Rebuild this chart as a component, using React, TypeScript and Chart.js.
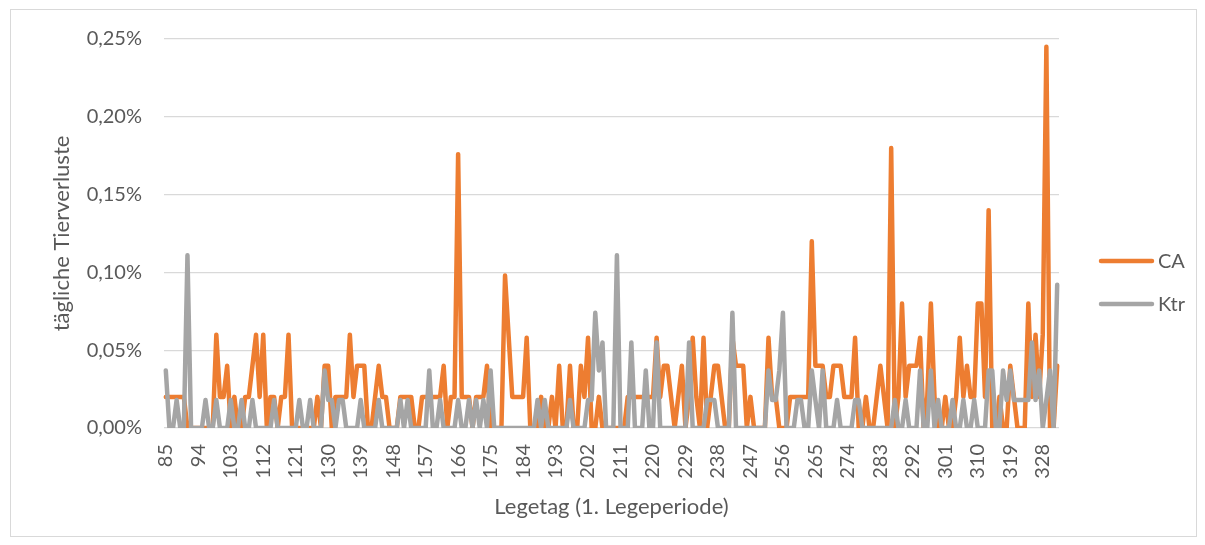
import React, { useEffect, useRef } from 'react';
import { Chart, registerables } from 'chart.js';

Chart.register(...registerables);

// ---- data -------------------------------------------------------------
const FIRST_DAY = 85;
const LAST_DAY = 332;
const days: string[] = [];
for (let d = FIRST_DAY; d <= LAST_DAY; d++) days.push(String(d));

// daily losses in percent (CA group), day 85 .. 332
const caLoss = [
  0.02, 0.02, 0.02, 0.02, 0.02, 0.02, 0, 0, 0, 0,
  0, 0, 0, 0, 0.06, 0.02, 0.02, 0.04, 0, 0.02,
  0, 0, 0.02, 0.02, 0.04, 0.06, 0.02, 0.06, 0, 0.02,
  0.02, 0, 0.02, 0.02, 0.06, 0, 0, 0, 0, 0,
  0, 0, 0.02, 0, 0.04, 0.04, 0, 0.02, 0.02, 0.02,
  0.02, 0.06, 0.02, 0.04, 0.04, 0.04, 0, 0, 0.02, 0.04,
  0.02, 0.02, 0, 0, 0, 0.02, 0.02, 0.02, 0.02, 0,
  0, 0.02, 0.02, 0.02, 0.02, 0.02, 0.02, 0.04, 0, 0.02,
  0.02, 0.176, 0.02, 0.02, 0.02, 0, 0.02, 0.02, 0.02, 0.04,
  0, 0, 0, 0, 0.098, 0.059, 0.02, 0.02, 0.02, 0.02,
  0.058, 0, 0, 0, 0.02, 0, 0, 0.02, 0, 0.04,
  0, 0, 0.04, 0, 0, 0.04, 0.02, 0.058, 0, 0,
  0.02, 0, 0, 0, 0, 0, 0, 0, 0.02, 0.02,
  0.02, 0.02, 0.02, 0.02, 0.02, 0.02, 0.058, 0.02, 0.04, 0.04,
  0.02, 0, 0.02, 0.04, 0, 0.02, 0.058, 0.02, 0, 0.058,
  0, 0.02, 0.04, 0.04, 0.02, 0, 0, 0.058, 0.04, 0.04,
  0.04, 0, 0.02, 0, 0, 0, 0, 0.058, 0.02, 0.02,
  0, 0, 0, 0.02, 0.02, 0.02, 0.02, 0.02, 0.02, 0.12,
  0.04, 0.04, 0.04, 0.02, 0.02, 0.04, 0.04, 0.04, 0.02, 0.02,
  0.02, 0.058, 0, 0, 0.02, 0, 0, 0.02, 0.04, 0.02,
  0, 0.18, 0, 0.02, 0.08, 0.02, 0.04, 0.04, 0.04, 0.058,
  0, 0.02, 0.08, 0.02, 0, 0, 0.02, 0, 0, 0.02,
  0.058, 0.02, 0.04, 0.02, 0.02, 0.08, 0.08, 0.02, 0.14, 0,
  0, 0.02, 0, 0, 0.04, 0.02, 0, 0, 0, 0.08,
  0.02, 0.06, 0.02, 0.06, 0.245, 0, 0, 0.04,
];

// daily losses in percent (control group), day 85 .. 332
const ktrLoss = [
  0.037, 0, 0, 0.018, 0, 0, 0.111, 0, 0, 0,
  0, 0.018, 0, 0, 0.018, 0, 0, 0, 0.018, 0,
  0, 0.018, 0, 0, 0.018, 0, 0, 0, 0, 0,
  0.018, 0, 0, 0, 0, 0, 0, 0.018, 0, 0,
  0.018, 0, 0, 0, 0.037, 0.018, 0.018, 0, 0.018, 0.018,
  0, 0, 0, 0, 0.018, 0, 0, 0, 0, 0.018,
  0, 0, 0, 0, 0, 0.018, 0, 0.018, 0, 0,
  0, 0, 0, 0.037, 0, 0, 0.018, 0, 0, 0,
  0, 0.018, 0, 0, 0.018, 0, 0.018, 0, 0.018, 0,
  0.037, 0, 0, 0, 0, 0, 0, 0, 0, 0,
  0, 0, 0, 0.018, 0, 0.018, 0, 0, 0, 0,
  0, 0, 0.018, 0, 0, 0, 0, 0.018, 0.018, 0.074,
  0.037, 0.055, 0, 0, 0, 0.111, 0, 0, 0, 0.055,
  0, 0, 0, 0.037, 0, 0, 0.055, 0, 0, 0,
  0, 0, 0, 0, 0, 0.055, 0, 0, 0, 0,
  0.018, 0.018, 0.018, 0, 0, 0, 0, 0.074, 0, 0,
  0, 0, 0, 0, 0, 0, 0, 0.037, 0.018, 0.018,
  0.037, 0.074, 0, 0, 0, 0.018, 0.018, 0, 0, 0.037,
  0.018, 0, 0.037, 0, 0, 0, 0.018, 0, 0, 0,
  0, 0.018, 0.018, 0, 0, 0, 0, 0, 0, 0,
  0, 0, 0.018, 0, 0, 0.018, 0, 0, 0, 0.037,
  0, 0, 0.037, 0, 0.018, 0, 0, 0, 0.018, 0,
  0, 0.018, 0, 0, 0.018, 0, 0, 0, 0.037, 0.037,
  0, 0, 0.037, 0.018, 0.037, 0.018, 0.018, 0.018, 0.018, 0.018,
  0.055, 0.018, 0.037, 0, 0.018, 0.037, 0, 0.092,
];

const seriesNames = ['CA', 'Ktr'];
const LABEL_STEP = 9;
const Y_MAX = 0.25;
const Y_STEP = 0.05;

// ---- style ------------------------------------------------------------
const ORANGE = '#ED7D31';
const GRAY = '#A5A5A5';
const TEXT = '#595959';
const GRID = '#D9D9D9';
const FONT = 'Lato';

const W = 1185;
const H = 526;

const sideLegend = {
  id: 'sideLegend',
  afterDraw(chart: any) {
    const ctx = chart.ctx;
    const items = [
      { label: seriesNames[0], color: ORANGE, y: 251 },
      { label: seriesNames[1], color: GRAY, y: 294 },
    ];
    ctx.save();
    items.forEach((it) => {
      ctx.strokeStyle = it.color;
      ctx.lineWidth = 4.5;
      ctx.lineCap = 'round';
      ctx.beginPath();
      ctx.moveTo(1090, it.y);
      ctx.lineTo(1141, it.y);
      ctx.stroke();
      ctx.fillStyle = TEXT;
      ctx.font = `20px ${FONT}`;
      ctx.textBaseline = 'middle';
      ctx.textAlign = 'left';
      ctx.fillText(it.label, 1147, it.y + 1);
    });
    ctx.restore();
  },
};

export default function App() {
  const ref = useRef<HTMLCanvasElement | null>(null);

  useEffect(() => {
    if (!ref.current) return;
    const chart = new Chart(ref.current, {
      type: 'line',
      data: {
        labels: days,
        datasets: [
          {
            label: seriesNames[0],
            data: caLoss,
            borderColor: ORANGE,
            backgroundColor: ORANGE,
            borderWidth: 4.5,
            pointRadius: 0,
            tension: 0,
            borderJoinStyle: 'round',
            borderCapStyle: 'round',
            order: 2,
          },
          {
            label: seriesNames[1],
            data: ktrLoss,
            borderColor: GRAY,
            backgroundColor: GRAY,
            borderWidth: 4.5,
            pointRadius: 0,
            tension: 0,
            borderJoinStyle: 'round',
            borderCapStyle: 'round',
            order: 1,
          },
        ],
      },
      options: {
        animation: false,
        responsive: false,
        devicePixelRatio: 1,
        layout: { padding: { left: 0, right: 137, top: 29, bottom: 0 } },
        plugins: {
          legend: { display: false },
          tooltip: { enabled: false },
        },
        scales: {
          x: {
            offset: true,
            grid: { display: false },
            border: { display: false },
            ticks: {
              autoSkip: false,
              minRotation: 90,
              maxRotation: 90,
              padding: 8,
              color: TEXT,
              font: { family: FONT, size: 20 },
              callback: (_v: any, i: number) => (i % LABEL_STEP === 0 ? days[i] : ''),
            },
            title: {
              display: true,
              text: 'Legetag (1. Legeperiode)',
              color: TEXT,
              font: { family: FONT, size: 22 },
              padding: { top: 0, bottom: 16 },
            },
            afterFit: (s: any) => {
              s.height = 108;
            },
          },
          y: {
            min: 0,
            max: Y_MAX,
            grid: {
              color: GRID,
              lineWidth: 1.3,
              drawTicks: true,
              tickLength: 18,
              tickColor: 'rgba(0,0,0,0)',
            },
            border: { display: false },
            ticks: {
              stepSize: Y_STEP,
              padding: 4,
              color: TEXT,
              font: { family: FONT, size: 20 },
              callback: (v: any) => Number(v).toFixed(2).replace('.', ',') + '%',
            },
            title: {
              display: true,
              text: 'tägliche Tierverluste',
              color: TEXT,
              font: { family: FONT, size: 22 },
              padding: { top: 38, bottom: 0 },
            },
            afterFit: (s: any) => {
              s.width = 153;
            },
          },
        },
      },
      plugins: [sideLegend],
    });
    return () => chart.destroy();
  }, []);

  return (
    <div
      style={{
        position: 'absolute',
        left: 10,
        top: 9,
        width: W,
        height: H,
        border: `1px solid ${GRID}`,
        background: '#fff',
      }}
    >
      <canvas ref={ref} width={W} height={H} style={{ display: 'block', width: W, height: H }} />
    </div>
  );
}
